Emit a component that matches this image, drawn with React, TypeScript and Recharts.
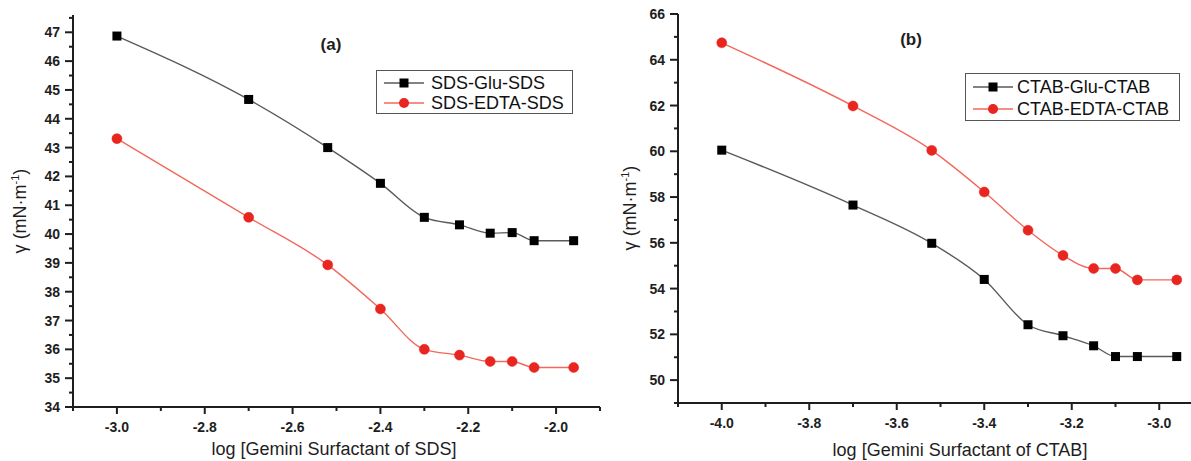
import { LineChart, Line, XAxis, YAxis, Legend } from "recharts";

const logSds = [-3.0, -2.7, -2.52, -2.4, -2.3, -2.22, -2.15, -2.1, -2.05, -1.96];
const sdsGlu = [46.87, 44.67, 43.0, 41.76, 40.58, 40.32, 40.03, 40.05, 39.77, 39.77];
const sdsEdta = [43.31, 40.58, 38.93, 37.4, 36.0, 35.8, 35.58, 35.58, 35.37, 35.37];

const logCtab = [-4.0, -3.7, -3.52, -3.4, -3.3, -3.22, -3.15, -3.1, -3.05, -2.96];
const ctabGlu = [60.05, 57.65, 55.98, 54.4, 52.42, 51.94, 51.5, 51.03, 51.03, 51.03];
const ctabEdta = [64.74, 61.98, 60.04, 58.22, 56.55, 55.45, 54.88, 54.88, 54.38, 54.38];

const xTicksA = [-3.1, -3.0, -2.9, -2.8, -2.7, -2.6, -2.5, -2.4, -2.3, -2.2, -2.1, -2.0, -1.9];
const yTicksA = [
  34, 34.5, 35, 35.5, 36, 36.5, 37, 37.5, 38, 38.5, 39, 39.5, 40, 40.5,
  41, 41.5, 42, 42.5, 43, 43.5, 44, 44.5, 45, 45.5, 46, 46.5, 47, 47.5,
];
const xTicksB = [-4.1, -4.0, -3.9, -3.8, -3.7, -3.6, -3.5, -3.4, -3.3, -3.2, -3.1, -3.0, -2.9];
const yTicksB = [49, 50, 51, 52, 53, 54, 55, 56, 57, 58, 59, 60, 61, 62, 63, 64, 65, 66];

const dataA = logSds.map((x, i) => ({ x, glu: sdsGlu[i], edta: sdsEdta[i] }));
const dataB = logCtab.map((x, i) => ({ x, glu: ctabGlu[i], edta: ctabEdta[i] }));

const INK = "#1e1e1e";
const GLU_LINE = "#5a5a5a";
const EDTA_LINE = "#f2685c";
const EDTA_DOT = "#e8251f";
const FONT = "Liberation Sans, Arial, sans-serif";

const evenTenth = (v: number) => Math.round(Math.abs(v) * 10) % 2 === 0;

const makeXTick = () => (props: any) => {
  const { x, y, payload } = props;
  const major = evenTenth(payload.value);
  return (
    <g>
      <line x1={x} x2={x} y1={y} y2={y + (major ? 7 : 4)} stroke={INK} strokeWidth={2} />
      {major && (
        <text x={x} y={y + 25} textAnchor="middle" fontSize={14} fontWeight="bold" fill={INK} fontFamily={FONT}>
          {payload.value.toFixed(1)}
        </text>
      )}
    </g>
  );
};

const makeYTick = (isMajor: (v: number) => boolean) => (props: any) => {
  const { x, y, payload } = props;
  const major = isMajor(payload.value);
  return (
    <g>
      <line x1={x} x2={x - (major ? 8 : 4)} y1={y} y2={y} stroke={INK} strokeWidth={2} />
      {major && (
        <text x={x - 13} y={y + 5} textAnchor="end" fontSize={14} fontWeight="bold" fill={INK} fontFamily={FONT}>
          {payload.value}
        </text>
      )}
    </g>
  );
};

const squareDot = (props: any) => {
  const { cx, cy, index } = props;
  return <rect key={index} x={cx - 4.5} y={cy - 4.5} width={9} height={9} fill="#000" />;
};

// glu row first, like the original figure
const makeLegend = (rowH: number, gap: number) => (props: any) => {
  const items = [...(props.payload || [])].sort((a: any, b: any) =>
    a.dataKey === "glu" ? -1 : b.dataKey === "glu" ? 1 : 0
  );
  return (
    <div
      style={{
        border: "1.5px solid #555",
        background: "#fff",
        boxSizing: "border-box",
        padding: "2px 0 0 7px",
        fontFamily: FONT,
        fontSize: 18,
        color: "#111",
      }}
    >
      {items.map((entry: any) => {
        const isGlu = entry.dataKey === "glu";
        return (
          <div key={entry.value} style={{ display: "flex", alignItems: "center", height: rowH, whiteSpace: "nowrap" }}>
            <svg width={40} height={12} style={{ marginRight: gap }}>
              <line x1={0} x2={40} y1={6} y2={6} stroke={isGlu ? GLU_LINE : EDTA_LINE} strokeWidth={1.5} />
              {isGlu ? (
                <rect x={15.5} y={1.5} width={9} height={9} fill="#000" />
              ) : (
                <circle cx={20} cy={6} r={5} fill={EDTA_DOT} />
              )}
            </svg>
            <span>{entry.value}</span>
          </div>
        );
      })}
    </div>
  );
};

const frameLine = { stroke: INK, strokeWidth: 2 };

const App = () => {
  return (
    <div style={{ position: "absolute", left: 0, top: 0, width: 1191, height: 461, overflow: "hidden", background: "#fff" }}>
      <div style={{ position: "absolute", left: 0, top: 0 }}>
        <LineChart width={610} height={461} data={dataA} margin={{ top: 15, right: 10, bottom: 14, left: 0 }}>
          <XAxis
            dataKey="x"
            type="number"
            domain={[-3.1, -1.9]}
            ticks={xTicksA}
            interval={0}
            height={40}
            tickSize={0}
            tickMargin={0}
            tickLine={false}
            axisLine={frameLine}
            tick={makeXTick()}
          />
          <XAxis xAxisId="top" orientation="top" type="number" domain={[-3.1, -1.9]} height={0} tick={false} tickLine={false} axisLine={frameLine} />
          <YAxis
            type="number"
            domain={[34, 47.6]}
            ticks={yTicksA}
            interval={0}
            width={73}
            tickSize={0}
            tickMargin={0}
            tickLine={false}
            axisLine={frameLine}
            tick={makeYTick((v) => Number.isInteger(v))}
          />
          <YAxis yAxisId="right" orientation="right" width={0} tick={false} tickLine={false} axisLine={frameLine} />
          <Legend
            layout="vertical"
            align="center"
            verticalAlign="middle"
            wrapperStyle={{ left: 376, top: 70, width: 197, height: 47 }}
            content={makeLegend(20, 7)}
          />
          <Line
            name="SDS-Glu-SDS"
            dataKey="glu"
            type="monotone"
            stroke={GLU_LINE}
            strokeWidth={1.4}
            dot={squareDot}
            isAnimationActive={false}
          />
          <Line
            name="SDS-EDTA-SDS"
            dataKey="edta"
            type="monotone"
            stroke={EDTA_LINE}
            strokeWidth={1.4}
            dot={{ r: 5, fill: EDTA_DOT, stroke: EDTA_DOT, strokeWidth: 0.5 }}
            isAnimationActive={false}
          />
        </LineChart>
      </div>

      <div style={{ position: "absolute", left: 600, top: 0 }}>
        <LineChart width={608} height={461} data={dataB} margin={{ top: 14, right: 5, bottom: 18, left: 0 }}>
          <XAxis
            dataKey="x"
            type="number"
            domain={[-4.1, -2.9]}
            ticks={xTicksB}
            interval={0}
            height={40}
            tickSize={0}
            tickMargin={0}
            tickLine={false}
            axisLine={frameLine}
            tick={makeXTick()}
          />
          <XAxis xAxisId="top" orientation="top" type="number" domain={[-4.1, -2.9]} height={0} tick={false} tickLine={false} axisLine={frameLine} />
          <YAxis
            type="number"
            domain={[49, 66]}
            ticks={yTicksB}
            interval={0}
            width={78}
            tickSize={0}
            tickMargin={0}
            tickLine={false}
            axisLine={frameLine}
            tick={makeYTick((v) => v % 2 === 0)}
          />
          <YAxis yAxisId="right" orientation="right" width={0} tick={false} tickLine={false} axisLine={frameLine} />
          <Legend
            layout="vertical"
            align="center"
            verticalAlign="middle"
            wrapperStyle={{ left: 365, top: 73, width: 215, height: 46 }}
            content={makeLegend(22, 4)}
          />
          <Line
            name="CTAB-Glu-CTAB"
            dataKey="glu"
            type="monotone"
            stroke={GLU_LINE}
            strokeWidth={1.4}
            dot={squareDot}
            isAnimationActive={false}
          />
          <Line
            name="CTAB-EDTA-CTAB"
            dataKey="edta"
            type="monotone"
            stroke={EDTA_LINE}
            strokeWidth={1.4}
            dot={{ r: 5, fill: EDTA_DOT, stroke: EDTA_DOT, strokeWidth: 0.5 }}
            isAnimationActive={false}
          />
        </LineChart>
      </div>

      {/* panel tags and axis titles */}
      <svg width={1191} height={461} style={{ position: "absolute", left: 0, top: 0, pointerEvents: "none" }} fontFamily={FONT} fill={INK}>
        <text x={331} y={50} textAnchor="middle" fontSize={17} fontWeight="bold">(a)</text>
        <text x={911} y={45} textAnchor="middle" fontSize={17} fontWeight="bold">(b)</text>
        <text x={334} y={455} textAnchor="middle" fontSize={18}>log [Gemini Surfactant of SDS]</text>
        <text x={960} y={456} textAnchor="middle" fontSize={18}>log [Gemini Surfactant of CTAB]</text>
        <text transform="translate(26 211) rotate(-90)" textAnchor="middle" fontSize={18}>
          γ (mN·m<tspan dy={-7} fontSize={11}>-1</tspan><tspan dy={7}>)</tspan>
        </text>
        <text transform="translate(636 208) rotate(-90)" textAnchor="middle" fontSize={18}>
          γ (mN·m<tspan dy={-7} fontSize={11}>-1</tspan><tspan dy={7}>)</tspan>
        </text>
      </svg>
    </div>
  );
};

export default App;
